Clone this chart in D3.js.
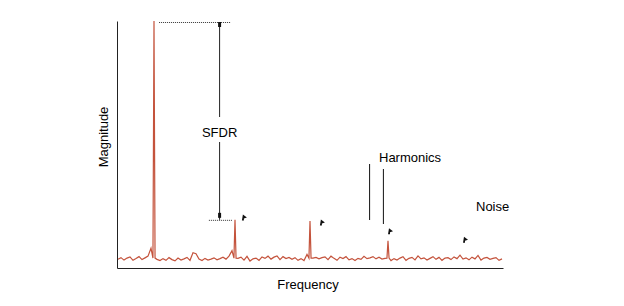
<!DOCTYPE html>
<html>
<head>
<meta charset="utf-8">
<script src="https://cdn.jsdelivr.net/npm/d3@7"></script>
<style>
  body { margin: 0; background: #fff; }
  text { font-family: "Liberation Sans", Arial, sans-serif; font-size: 13px; fill: #000; }
</style>
</head>
<body>
<div id="chart"></div>
<script>
// noise floor, one value per frequency bin (dB)
var noiseFloor = [
  -96.5, -95.8, -96.8, -96.0, -95.5, -96.9, -96.2, -95.4, -96.6, -95.9,
  -95.2, -92.0, -96.0, -96.5, -97.0, -96.2, -96.9, -95.8, -96.6, -97.1,
  -96.0, -96.8, -96.3, -95.7, -96.9, -93.8, -94.2, -96.4, -97.0, -96.1,
  -96.8, -96.4, -95.9, -96.7, -96.2, -95.6, -96.4, -95.2, -93.0, -96.0,
  -96.1, -95.6, -96.8, -95.3, -97.2, -96.3, -96.0, -96.9, -95.5, -96.1,
  -95.2, -96.4, -95.6, -95.1, -96.6, -95.4, -96.2, -95.7, -96.5, -95.8,
  -96.9, -96.2, -97.0, -94.5, -96.0, -96.0, -95.7, -96.3, -95.8, -95.5,
  -96.6, -95.2, -96.1, -96.9, -95.6, -96.2, -95.4, -96.7, -96.2, -97.0,
  -96.1, -96.5, -95.3, -96.2, -95.9, -95.4, -96.3, -95.6, -96.4, -96.1,
  -96.0, -97.0, -96.2, -96.8, -96.0, -95.4, -96.9, -96.1, -95.7, -96.7,
  -95.1, -96.3, -95.9, -96.8, -96.1, -95.4, -96.5, -95.7, -96.9, -96.0,
  -95.8, -96.6, -95.5, -96.2, -94.8, -96.4, -95.9, -96.7, -95.6, -96.3,
  -94.9, -96.8, -96.0, -95.7, -96.5, -96.1, -95.8, -96.9, -96.3
];

// fundamental + harmonics (bin, dB)
var spurBins = [12, 39, 64, 90];
var spurLevels = [0, -80.5, -81.0, -89.0];

// small pointer marks next to the spurs and in the noise (bin, dB)
var pointerBins = [41.3, 67.3, 90.0, 115.0];
var pointerLevels = [-80.0, -82.0, -85.5, -89.0];

// build the spectrum table, spurs are narrow spikes on the noise
var spectrum = [];
noiseFloor.forEach(function(v, i) {
  var k = spurBins.indexOf(i);
  if (k < 0) {
    spectrum.push({bin: i, db: v});
  } else {
    spectrum.push({bin: i - 0.35, db: v});
    spectrum.push({bin: i, db: spurLevels[k]});
    spectrum.push({bin: i + 0.35, db: v});
  }
});

var width = 624;
var height = 306;

var svg = d3.select("#chart")
  .append("svg")
  .attr("width", width)
  .attr("height", height);

var x = d3.scaleLinear()
  .domain([0, 128])
  .range([118, 502]);
var y = d3.scaleLinear()
  .domain([-100, 0])
  .range([268, 21]);

// axes, no ticks, just the lines
svg.append("g")
  .attr("transform", "translate(117,0)")
  .call(d3.axisLeft(y).ticks(0).tickSizeOuter(0))
  .select(".domain").attr("stroke", "#222");
svg.append("g")
  .attr("transform", "translate(0,268)")
  .call(d3.axisBottom(d3.scaleLinear().domain([0, 1]).range([117, 503])).ticks(0).tickSizeOuter(0))
  .select(".domain").attr("stroke", "#222");

// spectrum line
var line = d3.line()
  .x(function(d) { return x(d.bin); })
  .y(function(d) { return y(d.db); });
svg.append("path")
  .datum(spectrum)
  .attr("d", line)
  .attr("fill", "none")
  .attr("stroke", "#c4533c")
  .attr("stroke-width", 1.2);

// dotted reference lines for SFDR
svg.append("line")
  .attr("x1", x(13.7)).attr("x2", x(37.7))
  .attr("y1", y(spurLevels[0]) + 1.5).attr("y2", y(spurLevels[0]) + 1.5)
  .attr("stroke", "#333").attr("stroke-dasharray", "1,1");
svg.append("line")
  .attr("x1", x(30.3)).attr("x2", x(38))
  .attr("y1", y(spurLevels[1]) + 0.5).attr("y2", y(spurLevels[1]) + 0.5)
  .attr("stroke", "#333").attr("stroke-dasharray", "1,1");

// SFDR arrow, broken around its label
var ax = x(33.7) + 0.5;
svg.append("line")
  .attr("x1", ax).attr("x2", ax)
  .attr("y1", y(spurLevels[0]) + 1.5).attr("y2", 117)
  .attr("stroke", "#222");
svg.append("line")
  .attr("x1", ax).attr("x2", ax)
  .attr("y1", 142).attr("y2", y(spurLevels[1]))
  .attr("stroke", "#222");
svg.append("path")
  .attr("d", "M" + (ax - 1.5) + "," + (y(0) + 1) + " h3 v5 h-3 z")
  .attr("fill", "#111");
svg.append("path")
  .attr("d", "M" + (ax - 1.5) + "," + (y(spurLevels[1]) - 7) + " h3 v5 h-3 z")
  .attr("fill", "#111");
svg.append("text")
  .attr("x", ax)
  .attr("y", 137)
  .attr("text-anchor", "middle")
  .text("SFDR");

// harmonics pointer lines
svg.append("line")
  .attr("x1", x(83.7) + 0.5).attr("x2", x(83.7) + 0.5)
  .attr("y1", 164).attr("y2", 220)
  .attr("stroke", "#111");
svg.append("line")
  .attr("x1", x(88.3) + 0.5).attr("x2", x(88.3) + 0.5)
  .attr("y1", 169).attr("y2", 224)
  .attr("stroke", "#111");
svg.append("text")
  .attr("x", 379)
  .attr("y", 162)
  .text("Harmonics");
svg.append("text")
  .attr("x", 476)
  .attr("y", 211)
  .text("Noise");

// tiny pointer marks
svg.selectAll(".pointer")
  .data(pointerBins)
  .enter()
  .append("path")
  .attr("class", "pointer")
  .attr("d", function(d, i) {
    var px = x(d), py = y(pointerLevels[i]);
    return "M" + px + "," + (py + 2) + " L" + (px + 1) + "," + (py - 4) + " L" + (px + 5) + "," + (py - 1) + " L" + (px + 2) + "," + (py) + " L" + (px + 2) + "," + (py + 2) + " Z";
  })
  .attr("fill", "#111");

// axis labels
svg.append("text")
  .attr("x", 308)
  .attr("y", 289)
  .attr("text-anchor", "middle")
  .text("Frequency");
svg.append("text")
  .attr("transform", "translate(108,137) rotate(-90)")
  .attr("text-anchor", "middle")
  .text("Magnitude");
</script>
</body>
</html>
